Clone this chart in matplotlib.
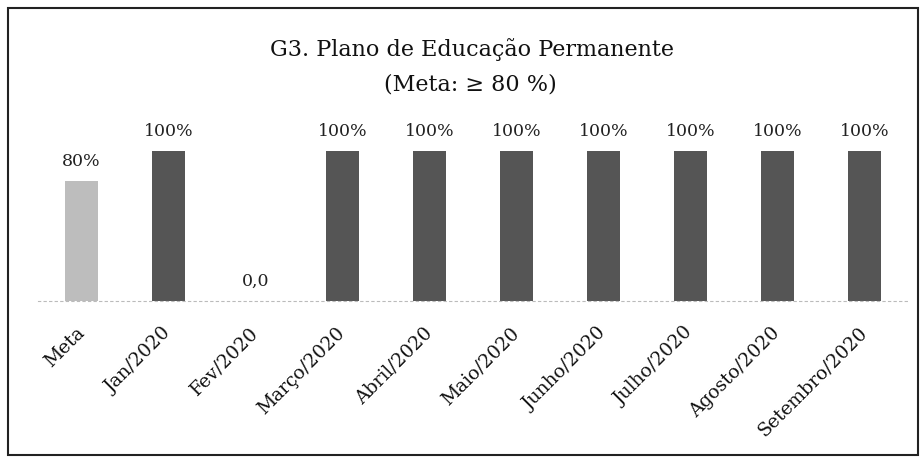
import matplotlib
matplotlib.use("Agg")
import matplotlib.pyplot as plt
from matplotlib.patches import Rectangle

# dados do gráfico
categorias = ['Meta', 'Jan/2020', 'Fev/2020', 'Março/2020', 'Abril/2020', 'Maio/2020',
              'Junho/2020', 'Julho/2020', 'Agosto/2020', 'Setembro/2020']
valores = [80, 100, 0, 100, 100, 100, 100, 100, 100, 100]
rotulos = ['80%', '100%', '0,0', '100%', '100%', '100%', '100%', '100%', '100%', '100%']

plt.rcParams['font.family'] = ['DejaVu Serif']

fig = plt.figure(figsize=(9.24, 4.59), dpi=100)
ax = fig.add_axes([38 / 924, 1 - 301 / 459, 870 / 924, 180 / 459])

cores = ['#bdbdbd'] + ['#555555'] * (len(valores) - 1)
x = range(len(categorias))
barras = ax.bar(x, valores, width=0.39, color=cores, edgecolor='none')

for b, r in zip(barras, rotulos):
    ax.annotate(r, (b.get_x() + b.get_width() / 2, b.get_height()),
                xytext=(0, 8), textcoords='offset points',
                ha='center', va='bottom', fontsize=12.5, color='#222222')

ax.set_xlim(-0.5, len(categorias) - 0.5)
ax.set_ylim(0, 120)
ax.set_yticks([])
ax.set_xticks(list(x))
ax.set_xticklabels(categorias, rotation=45, ha='right', va='center',
                   rotation_mode='anchor', fontsize=13.5, color='#111111')
ax.tick_params(axis='x', length=0, pad=21)
for s in ['top', 'left', 'right']:
    ax.spines[s].set_visible(False)
ax.spines['bottom'].set_color('#bbbbbb')
ax.spines['bottom'].set_linestyle((0, (2, 3)))
ax.spines['bottom'].set_linewidth(0.8)

fig.text(472 / 924, 1 - 50 / 459, 'G3. Plano de Educação Permanente',
         ha='center', va='center', fontsize=16, color='#111111')
fig.text(470 / 924, 1 - 84 / 459, '(Meta: ≥ 80 %)',
         ha='center', va='center', fontsize=16, color='#111111')

# moldura
fig.patches.append(Rectangle((8 / 924, 4 / 459), 910 / 924, 447 / 459,
                             transform=fig.transFigure, fill=False,
                             edgecolor='#222222', linewidth=1.5))

fig.savefig('out.png', dpi=100)
